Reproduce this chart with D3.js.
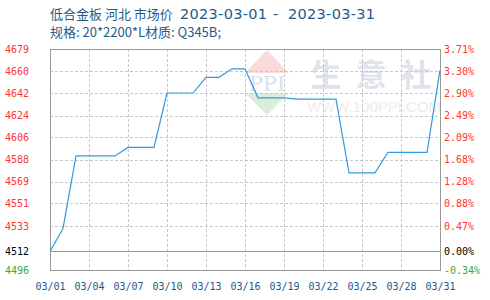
<!DOCTYPE html>
<html>
<head>
<meta charset="utf-8">
<script src="https://cdn.jsdelivr.net/npm/d3@7"></script>
<style>
  body { margin: 0; background: #fff; }
  svg { display: block; }
</style>
</head>
<body>
<div id="chart"></div>
<script>
// Data
var titleName = "低合金板 河北 市场价";
var titleFrom = "2023-03-01";
var titleTo = "2023-03-31";
var titleLine2 = "规格: 20*2200*L材质: Q345B;";

var dates = ["03/01","03/02","03/03","03/04","03/05","03/06","03/07","03/08","03/09","03/10",
             "03/11","03/12","03/13","03/14","03/15","03/16","03/17","03/18","03/19","03/20",
             "03/21","03/22","03/23","03/24","03/25","03/26","03/27","03/28","03/29","03/30","03/31"];
var prices = [4512, 4531, 4591, 4591, 4591, 4591, 4598, 4598, 4598, 4643,
              4643, 4643, 4656, 4656, 4663, 4663, 4639, 4639, 4639, 4638,
              4638, 4638, 4638, 4577, 4577, 4577, 4594, 4594, 4594, 4594, 4662];
var xTicks = ["03/01","03/04","03/07","03/10","03/13","03/16","03/19","03/22","03/25","03/28","03/31"];

var basePrice = 4512;
var pctTicks = [-0.34, 0, 0.47, 0.88, 1.28, 1.68, 2.09, 2.49, 2.90, 3.30, 3.71];
var leftLabels = ["4496","4512","4533","4551","4569","4588","4606","4624","4642","4660","4679"];
var rightLabels = ["-0.34%","0.00%","0.47%","0.88%","1.28%","1.68%","2.09%","2.49%","2.90%","3.30%","3.71%"];

var width = 490, height = 300;
var plot = { left: 50, right: 440, top: 49, bottom: 270 };

var svg = d3.select('#chart').append('svg')
    .attr('width', width)
    .attr('height', height);

var x = d3.scalePoint()
    .domain(dates)
    .range([plot.left, plot.right]);

var yPct = d3.scaleLinear()
    .domain([pctTicks[0], pctTicks[pctTicks.length - 1]])
    .range([plot.bottom, plot.top]);

var yPrice = d3.scaleLinear()
    .domain(yPct.domain().map(function(p) { return basePrice * (1 + p / 100); }))
    .range([plot.bottom, plot.top]);

function labelColor(i) {
    if (pctTicks[i] < 0) return '#33aa33';
    if (pctTicks[i] === 0) return '#000';
    return '#ff3333';
}

// watermark
var wm = svg.append('g').attr('class', 'watermark');
wm.append('path')
    .attr('d', 'M245,73 L267,50 L289,73 Z')
    .attr('fill', '#fadada');
wm.append('path')
    .attr('d', 'M245,93 L289,93 L267,115 Z')
    .attr('fill', '#daeeda');
wm.append('text')
    .attr('x', 267).attr('y', 91)
    .attr('text-anchor', 'middle')
    .attr('font-family', 'DejaVu Serif, serif')
    .attr('font-size', 21)
    .attr('fill', '#d9e0ef')
    .text('PPI');
wm.selectAll('text.wmc')
    .data(['生', '意', '社'])
    .enter().append('text')
    .attr('class', 'wmc')
    .attr('x', function(d, i) { return 326 + i * 45; })
    .attr('y', 86)
    .attr('text-anchor', 'middle')
    .attr('font-family', 'Noto Sans CJK SC')
    .attr('font-weight', 'bold')
    .attr('font-size', 31)
    .attr('fill', '#dfe3ec')
    .text(function(d) { return d; });
wm.append('text')
    .attr('x', 374).attr('y', 112)
    .attr('text-anchor', 'middle')
    .attr('font-family', 'Liberation Sans, sans-serif')
    .attr('font-size', 15)
    .attr('fill', '#ececec')
    .text('WWW.100PPI.COM');

// grid
var grid = svg.append('g').attr('class', 'grid');
grid.selectAll('line.h')
    .data(pctTicks.filter(function(p, i) { return p !== 0 && i > 0 && i < pctTicks.length - 1; }))
    .enter().append('line')
    .attr('class', 'h')
    .attr('x1', plot.left).attr('x2', plot.right)
    .attr('y1', function(d) { return Math.round(yPct(d)) + 0.5; })
    .attr('y2', function(d) { return Math.round(yPct(d)) + 0.5; })
    .attr('stroke', '#c8c8c8')
    .attr('stroke-dasharray', '3,2');
grid.selectAll('line.v')
    .data(xTicks.slice(1, -1))
    .enter().append('line')
    .attr('class', 'v')
    .attr('x1', function(d) { return Math.round(x(d)) + 0.5; })
    .attr('x2', function(d) { return Math.round(x(d)) + 0.5; })
    .attr('y1', plot.top).attr('y2', plot.bottom)
    .attr('stroke', '#c8c8c8')
    .attr('stroke-dasharray', '3,2');

// zero line
svg.append('line')
    .attr('x1', plot.left).attr('x2', plot.right)
    .attr('y1', Math.round(yPct(0)) + 0.5)
    .attr('y2', Math.round(yPct(0)) + 0.5)
    .attr('stroke', '#999');

// frame
svg.append('rect')
    .attr('x', plot.left + 0.5).attr('y', plot.top + 0.5)
    .attr('width', plot.right - plot.left)
    .attr('height', plot.bottom - plot.top)
    .attr('fill', 'none')
    .attr('stroke', '#999');

// price line
var line = d3.line()
    .x(function(d, i) { return x(dates[i]); })
    .y(function(d) { return yPrice(d); });

svg.append('path')
    .datum(prices)
    .attr('d', line)
    .attr('fill', 'none')
    .attr('stroke', '#3399dd')
    .attr('stroke-width', 1.2);

// axes
var leftAxis = svg.append('g')
    .attr('transform', 'translate(29,0)')
    .call(d3.axisLeft(yPct).tickValues(pctTicks).tickSize(0).tickPadding(0)
        .tickFormat(function(d, i) { return leftLabels[i]; }));
var rightAxis = svg.append('g')
    .attr('transform', 'translate(444,0)')
    .call(d3.axisRight(yPct).tickValues(pctTicks).tickSize(0).tickPadding(0)
        .tickFormat(function(d, i) { return rightLabels[i]; }));
var bottomAxis = svg.append('g')
    .attr('transform', 'translate(0,' + (plot.bottom + 13) + ')')
    .call(d3.axisBottom(x).tickValues(xTicks).tickSize(0).tickPadding(0));

[leftAxis, rightAxis, bottomAxis].forEach(function(ax) {
    ax.select('.domain').remove();
    ax.selectAll('text')
        .attr('font-family', 'DejaVu Sans Mono, monospace')
        .attr('font-size', 10);
});
leftAxis.selectAll('text').attr('fill', function(d, i) { return labelColor(i); });
rightAxis.selectAll('text').attr('fill', function(d, i) { return labelColor(i); });
bottomAxis.selectAll('text').attr('fill', '#1a5a8a');

// titles
var t1 = svg.append('text')
    .attr('x', 50).attr('y', 19)
    .attr('font-family', 'Noto Sans CJK SC, Noto Sans, sans-serif')
    .attr('font-size', 13)
    .attr('fill', '#1f5b8a');
t1.append('tspan').text(titleName);
t1.append('tspan')
    .attr('x', 180)
    .attr('font-family', 'DejaVu Sans, sans-serif')
    .attr('font-size', 14.5)
    .attr('textLength', 87)
    .text(titleFrom);
t1.append('tspan')
    .attr('x', 273)
    .attr('font-family', 'DejaVu Sans, sans-serif')
    .attr('font-size', 14.5)
    .text('-');
t1.append('tspan')
    .attr('x', 288)
    .attr('font-family', 'DejaVu Sans, sans-serif')
    .attr('font-size', 14.5)
    .attr('textLength', 87)
    .text(titleTo);
svg.append('text')
    .attr('x', 50).attr('y', 37)
    .attr('font-family', 'Noto Sans CJK SC, Noto Sans, sans-serif')
    .attr('font-size', 13)
    .attr('fill', '#1f5b8a')
    .text(titleLine2);
</script>
</body>
</html>
